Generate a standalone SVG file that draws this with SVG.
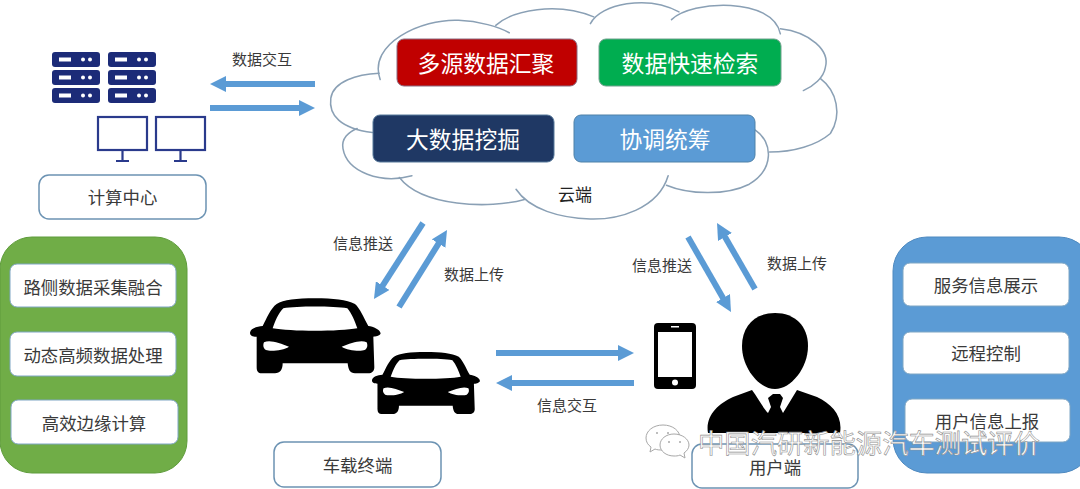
<svg xmlns="http://www.w3.org/2000/svg" xmlns:xlink="http://www.w3.org/1999/xlink" width="1080" height="489" viewBox="0 0 1080 489">
<style>
text{font-family:"Noto Sans CJK SC","Liberation Sans",sans-serif;text-anchor:middle;dominant-baseline:central;fill:#3a3a3a}
.lab{font-size:15px}
.ttl{font-size:17.4px}
.big{font-size:22.8px;fill:#fff}
.box{fill:#fff;stroke:#6c93b3;stroke-width:1.5}
.tile{fill:#fff;stroke:#7fa6c4;stroke-width:1}
.arr{stroke:#5b9bd5;stroke-width:6;fill:none;marker-end:url(#h)}
.cl{fill:none;stroke:#8aa0b5;stroke-width:4.5;stroke-linecap:round}
.srv{fill:#1c2b78}
.srvd{fill:#fff}
.mon{fill:#fff;stroke:#2a3a8c;stroke-width:2.2}
.st{fill:none;stroke:#2a3a8c;stroke-width:2.2}
.wm{font-size:26.3px;fill:#fff;stroke:#8f8f8f;stroke-width:.6}
.wi{fill:#fff;stroke:#a8a8a8;stroke-width:1}
.we{fill:#a8a8a8}
</style>
<defs>
<marker id="h" markerUnits="userSpaceOnUse" markerWidth="16" markerHeight="16" refX="8" refY="8" orient="auto"><path d="M0,0L16,8L0,16Z" fill="#5b9bd5"/></marker>
<path id="car" fill-rule="evenodd" d="M225,55C280,55 320,60 345,72C360,85 372,115 385,138C400,140 420,148 422,160C420,168 405,170 400,170L403,262C403,275 395,280 385,280L345,280C330,280 325,270 323,250L128,250C128,270 120,280 105,280L65,280C55,280 50,275 50,262L50,170C40,170 30,168 30,158C32,145 50,140 68,138C80,115 92,85 110,72C130,60 170,55 225,55ZM130,85C170,78 280,78 322,85C335,100 345,125 352,145C300,155 150,155 98,145C105,125 115,100 130,85ZM72,187C90,178 120,190 147,200C130,212 90,215 78,210C70,205 68,195 72,187ZM380,187C362,178 332,190 305,200C322,212 362,215 374,210C382,205 384,195 380,187Z"/>
<g id="rack"><rect class="srv" x="0" y="0" width="48" height="15" rx="3"/><rect class="srvd" x="7" y="5.5" width="12" height="4"/><circle class="srvd" cx="31" cy="7.5" r="2"/><circle class="srvd" cx="38" cy="7.5" r="2"/></g>
<g id="monitor"><rect class="mon" x="0" y="0" width="49" height="33"/><path class="st" d="M24.500,33V44M18,44H31"/></g>
</defs>
<rect width="1080" height="489" fill="#fff"/>

<g id="computing-center">
<use xlink:href="#rack" x="52" y="52"/><use xlink:href="#rack" x="52" y="70"/><use xlink:href="#rack" x="52" y="88"/>
<use xlink:href="#rack" x="108" y="52"/><use xlink:href="#rack" x="108" y="70"/><use xlink:href="#rack" x="108" y="88"/>
<use xlink:href="#monitor" x="98" y="117"/><use xlink:href="#monitor" x="156" y="117"/>
<rect class="box" x="39" y="175" width="167" height="44" rx="10"/>
<text class="ttl" x="122.500" y="196">计算中心</text>
</g>

<g id="cloud">
<g transform="translate(320 0) scale(.338)">
<path class="cl" d="M178,235C140,130 300,55 410,60C470,62 530,80 560,97"/>
<path class="cl" d="M520,75C570,30 700,5 810,50"/>
<path class="cl" d="M800,70C830,10 970,-15 1062,35"/>
<path class="cl" d="M1040,58C1100,0 1340,-10 1362,100"/>
<path class="cl" d="M1362,85C1450,95 1510,150 1495,200C1490,230 1460,255 1430,268"/>
<path class="cl" d="M1480,232C1530,270 1545,340 1510,395C1470,430 1400,450 1330,450"/>
<path class="cl" d="M1288,385C1340,420 1345,500 1270,545C1200,580 1090,575 1025,548"/>
<path class="cl" d="M1030,520C1000,620 880,650 800,648C710,645 620,620 580,560"/>
<path class="cl" d="M605,590C500,620 300,610 235,525"/>
<path class="cl" d="M272,520C180,545 80,510 68,440C62,410 85,390 110,380"/>
<path class="cl" d="M155,392C60,380 25,340 32,290C40,240 110,220 175,217"/>
</g>
<rect x="397" y="39" width="180" height="47" rx="7" fill="#c00000" stroke="#8a6a80" stroke-width="1"/>
<text class="big" x="486" y="62">多源数据汇聚</text>
<rect x="599" y="39" width="182" height="47" rx="7" fill="#00ad50" stroke="#6fa08c" stroke-width="1"/>
<text class="big" x="690" y="62">数据快速检索</text>
<rect x="373" y="115" width="181" height="47" rx="7" fill="#1f3864" stroke="#56789a" stroke-width="1"/>
<text class="big" x="463" y="138">大数据挖掘</text>
<rect x="574" y="115" width="181" height="47" rx="7" fill="#5b9bd5" stroke="#4f81a8" stroke-width="1"/>
<text class="big" x="665" y="138">协调统筹</text>
<text x="575" y="193" style="font-size:17px;fill:#222">云端</text>
</g>

<g id="connectors">
<path class="arr" d="M315,84H218"/>
<path class="arr" d="M210,108H307"/>
<path class="arr" d="M423,223L378.300,292.300"/>
<path class="arr" d="M399,307L442.800,236.800"/>
<path class="arr" d="M688,237L727,305"/>
<path class="arr" d="M755,289L721,230"/>
<path class="arr" d="M496,353H626"/>
<path class="arr" d="M634,383H504"/>
</g>
<g id="connector-labels">
<text class="lab" x="262" y="58">数据交互</text>
<text class="lab" x="363" y="242">信息推送</text>
<text class="lab" x="474" y="273">数据上传</text>
<text class="lab" x="662" y="264">信息推送</text>
<text class="lab" x="797" y="262">数据上传</text>
<text class="lab" x="567" y="404">信息交互</text>
</g>

<g id="edge-panel">
<rect x="0" y="237" width="187" height="236" rx="32" fill="#70ad47" stroke="#5f9c3c" stroke-width="1"/>
<rect class="tile" x="10" y="264" width="166" height="43" rx="7"/><text class="ttl" x="93" y="286">路侧数据采集融合</text>
<rect class="tile" x="10" y="332" width="166" height="44" rx="7"/><text class="ttl" x="93" y="354">动态高频数据处理</text>
<rect class="tile" x="11" y="400" width="167" height="44" rx="7"/><text class="ttl" x="94" y="422">高效边缘计算</text>
</g>

<g id="vehicle-terminal">
<use xlink:href="#car" transform="translate(240 280) scale(.3333)"/>
<use xlink:href="#car" transform="translate(363.700 336.800) scale(.2755)"/>
<rect class="box" x="274" y="442" width="167" height="45" rx="10"/>
<text class="ttl" x="357.500" y="464">车载终端</text>
</g>

<g id="phone">
<rect x="654" y="323" width="42" height="66" rx="4" fill="#000"/>
<rect x="658" y="332" width="34" height="45" fill="#fff"/>
<rect x="671" y="326" width="8" height="1.500" fill="#fff"/>
<circle cx="675" cy="382.500" r="3" fill="#fff"/>
</g>

<g id="user">
<path d="M775,313C795,313 808,326 808,346C808,368 791,389 775,389C759,389 742,368 742,346C742,326 755,313 775,313Z" fill="#000"/>
<path d="M708,433C705,416 718,404 733,397L752,390C758,398 763,408 768,413L771,407L768,398L773,394L780,394L783,398L780,407L783,413L797,390L817,397C832,404 843,416 840,433Z" fill="#000"/>
<rect class="box" x="692" y="444" width="166" height="44" rx="10"/>
<text class="ttl" x="775" y="466">用户端</text>
</g>

<g id="service-panel">
<rect x="893" y="237" width="200" height="236" rx="34" fill="#5b9bd5" stroke="#4f8ac0" stroke-width="1"/>
<rect class="tile" x="903" y="263" width="166" height="43" rx="7"/><text class="ttl" x="986" y="284">服务信息展示</text>
<rect class="tile" x="903" y="332" width="166" height="42" rx="7"/><text class="ttl" x="986" y="352">远程控制</text>
<rect class="tile" x="905" y="399" width="165" height="43" rx="7"/><text class="ttl" x="987" y="420">用户信息上报</text>
</g>

<g id="watermark">
<path class="wi" d="M663,425C653,425 646,431 646,438C646,442 648,445 651,447L650,452L655,449C657,450 660,450 663,450C673,450 680,445 680,438C680,431 673,425 663,425Z"/>
<circle class="we" cx="657" cy="433" r="1"/><circle class="we" cx="668" cy="433" r="1"/>
<path class="wi" d="M674,434C666,434 660,439 660,445C660,451 666,456 674,456C676,456 678,456 680,455L685,458L684,453C687,451 689,448 689,445C689,439 682,434 674,434Z"/>
<circle class="we" cx="669" cy="442" r="1"/><circle class="we" cx="680" cy="442" r="1"/>
<text class="wm" x="869" y="441">中国汽研新能源汽车测试评价</text>
</g>
</svg>
